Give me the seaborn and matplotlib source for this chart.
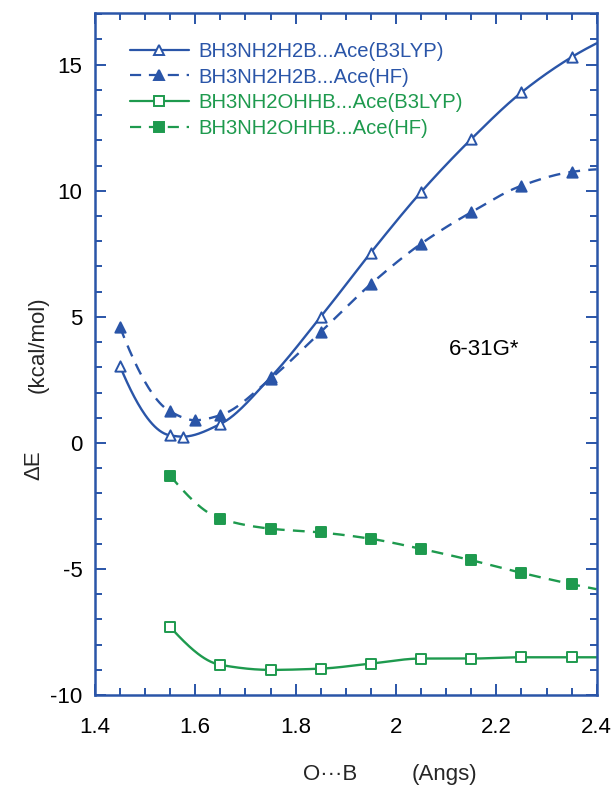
import numpy as np
import pandas as pd
import matplotlib
matplotlib.use("Agg")
import matplotlib.pyplot as plt
from matplotlib.lines import Line2D
from matplotlib.ticker import MultipleLocator
import seaborn as sns

# O...B distance (Angstrom) and interaction energies (kcal/mol)
x_h2b_b3lyp = [1.45, 1.55, 1.575, 1.65, 1.75, 1.85, 1.95, 2.05, 2.15, 2.25, 2.35]
e_h2b_b3lyp = [3.05, 0.30, 0.25, 0.75, 2.60, 5.00, 7.55, 9.95, 12.05, 13.90, 15.30]

x_h2b_hf = [1.45, 1.55, 1.60, 1.65, 1.75, 1.85, 1.95, 2.05, 2.15, 2.25, 2.35]
e_h2b_hf = [4.60, 1.25, 0.90, 1.10, 2.55, 4.40, 6.30, 7.90, 9.15, 10.20, 10.75]

x_ohhb_b3lyp = [1.55, 1.65, 1.75, 1.85, 1.95, 2.05, 2.15, 2.25, 2.35]
e_ohhb_b3lyp = [-7.30, -8.80, -9.00, -8.95, -8.75, -8.55, -8.55, -8.50, -8.50]

x_ohhb_hf = [1.55, 1.65, 1.75, 1.85, 1.95, 2.05, 2.15, 2.25, 2.35]
e_ohhb_hf = [-1.30, -3.00, -3.40, -3.55, -3.80, -4.20, -4.65, -5.15, -5.60]

# curve values where each fitted curve leaves the frame at 2.4 Angs
x_edge = 2.4
e_edge = {"h2b_b3lyp": 15.85, "h2b_hf": 10.85, "ohhb_b3lyp": -8.50, "ohhb_hf": -5.80}

labels = ["BH3NH2H2B...Ace(B3LYP)", "BH3NH2H2B...Ace(HF)",
          "BH3NH2OHHB...Ace(B3LYP)", "BH3NH2OHHB...Ace(HF)"]
x_ticks = [1.4, 1.6, 1.8, 2.0, 2.2, 2.4]
x_ticklabels = ["1.4", "1.6", "1.8", "2", "2.2", "2.4"]
y_ticks = [-10, -5, 0, 5, 10, 15]

BLUE = "#2a55a8"
GREEN = "#1e9a4e"


def pchip_curve(xs, ys, n=400):
    """Shape-preserving cubic (PCHIP) curve through the points."""
    xs = np.asarray(xs, float)
    ys = np.asarray(ys, float)
    h = np.diff(xs)
    delta = np.diff(ys) / h
    k = len(xs)
    d = np.zeros(k)
    for i in range(1, k - 1):
        if delta[i - 1] * delta[i] > 0:
            w1 = 2 * h[i] + h[i - 1]
            w2 = h[i] + 2 * h[i - 1]
            d[i] = (w1 + w2) / (w1 / delta[i - 1] + w2 / delta[i])
    # end slopes
    for end, (hh0, hh1, d0, d1) in {
        0: (h[0], h[1], delta[0], delta[1]),
        k - 1: (h[-1], h[-2], delta[-1], delta[-2]),
    }.items():
        s = ((2 * hh0 + hh1) * d0 - hh0 * d1) / (hh0 + hh1)
        if np.sign(s) != np.sign(d0):
            s = 0.0
        elif np.sign(d0) != np.sign(d1) and abs(s) > abs(3 * d0):
            s = 3 * d0
        d[end] = s
    xx = np.linspace(xs[0], xs[-1], n)
    idx = np.clip(np.searchsorted(xs, xx) - 1, 0, k - 2)
    t = (xx - xs[idx]) / h[idx]
    h00 = 2 * t ** 3 - 3 * t ** 2 + 1
    h10 = t ** 3 - 2 * t ** 2 + t
    h01 = -2 * t ** 3 + 3 * t ** 2
    h11 = t ** 3 - t ** 2
    yy = (h00 * ys[idx] + h10 * h[idx] * d[idx]
          + h01 * ys[idx + 1] + h11 * h[idx] * d[idx + 1])
    return xx, yy


series = [
    ("h2b_b3lyp", x_h2b_b3lyp, e_h2b_b3lyp, BLUE, "-", "^", False),
    ("h2b_hf", x_h2b_hf, e_h2b_hf, BLUE, (0, (5, 3.5)), "^", True),
    ("ohhb_b3lyp", x_ohhb_b3lyp, e_ohhb_b3lyp, GREEN, "-", "s", False),
    ("ohhb_hf", x_ohhb_hf, e_ohhb_hf, GREEN, (0, (5, 3.5)), "s", True),
]

sns.set_theme(style="ticks")
plt.rcParams["font.family"] = ["Liberation Sans", "DejaVu Sans"]
plt.rcParams["axes.unicode_minus"] = False

fig = plt.figure(figsize=(6.12, 7.89), dpi=100)
ax = fig.add_axes([0.155, 0.119, 0.820, 0.8645])

handles = []
for key, xs, es, col, ls, mk, filled in series:
    cx, cy = pchip_curve(list(xs) + [x_edge], list(es) + [e_edge[key]])
    curve = pd.DataFrame({"x": cx, "y": cy})
    sns.lineplot(data=curve, x="x", y="y", ax=ax, color=col, linewidth=1.7,
                 linestyle=ls, sort=False, estimator=None)
    pts = pd.DataFrame({"x": xs, "y": es})
    sns.scatterplot(data=pts, x="x", y="y", ax=ax, marker=mk, s=55,
                    facecolor=col if filled else "white", edgecolor=col,
                    linewidth=1.4, zorder=5)
    handles.append(Line2D([], [], color=col, linestyle=ls, linewidth=1.6,
                          marker=mk, markersize=7,
                          markerfacecolor=col if filled else "white",
                          markeredgecolor=col, markeredgewidth=1.4))

ax.set_xlim(1.4, 2.4)
ax.set_ylim(-10, 17.05)
ax.set_xticks(x_ticks)
ax.set_xticklabels(x_ticklabels)
ax.set_yticks(y_ticks)
ax.xaxis.set_minor_locator(MultipleLocator(0.05))
ax.yaxis.set_minor_locator(MultipleLocator(1))
ax.tick_params(which="both", direction="in", top=True, right=True,
               color=BLUE, labelsize=16, labelcolor="black", width=1.4)
ax.tick_params(axis="x", which="both", pad=16)
ax.tick_params(axis="y", which="both", pad=9)
ax.tick_params(which="major", length=8)
ax.tick_params(which="minor", length=5)
for sp in ax.spines.values():
    sp.set_color(BLUE)
    sp.set_linewidth(1.8)
ax.set_xlabel("")
ax.set_ylabel("")

leg = ax.legend(handles, labels, loc="upper left", bbox_to_anchor=(0.07, 0.958),
                frameon=False, fontsize=14.6, handlelength=2.9, handletextpad=0.45,
                labelspacing=0.34, borderpad=0, borderaxespad=0)
for txt, col in zip(leg.get_texts(), [BLUE, BLUE, GREEN, GREEN]):
    txt.set_color(col)

ax.text(0.776, 0.506, "6-31G*", transform=ax.transAxes, fontsize=16,
        ha="center", va="center", color="black")

fig.text(0.062, 0.563, "(kcal/mol)", rotation=90, fontsize=16,
         ha="center", va="center")
fig.text(0.055, 0.41, "ΔE", rotation=90, fontsize=16, ha="center", va="center")
fig.text(0.54, 0.018, "O···B", fontsize=16, ha="center", va="center")
fig.text(0.727, 0.018, "(Angs)", fontsize=16, ha="center", va="center")

fig.savefig("out.png", dpi=100)
